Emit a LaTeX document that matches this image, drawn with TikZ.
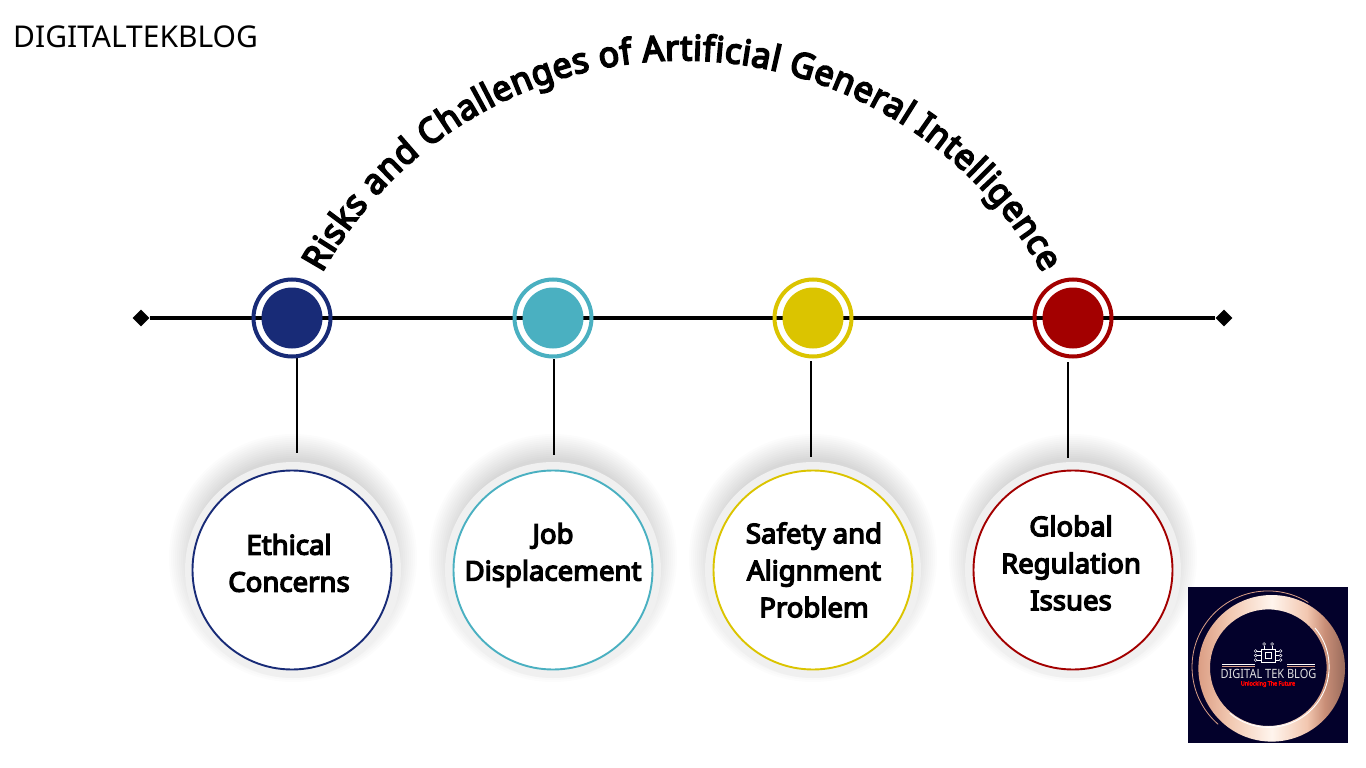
\documentclass[tikz,border=0pt]{standalone}
\usepackage{fontspec}
\setmainfont{Noto Sans}
\newfontfamily\labelfont[FakeBold=5,FakeStretch=1.02]{Noto Sans}
\newfontfamily\titlefont[FakeBold=5,FakeStretch=0.97]{Noto Sans}
\newfontfamily\logofont[FakeStretch=0.86]{Noto Sans}
\newfontfamily\logosmall[FakeBold=5,FakeStretch=0.9]{Noto Sans}
\usetikzlibrary{shapes.geometric,decorations.text,positioning}
\definecolor{cnavy}{HTML}{182B77}
\definecolor{cteal}{HTML}{4AB0C1}
\definecolor{cyell}{HTML}{DBC400}
\definecolor{cred}{HTML}{A30000}
\definecolor{clogo}{HTML}{03012B}
\definecolor{ccopper}{HTML}{D99E86}
\definecolor{cpale}{HTML}{FBEDE4}
\pgfdeclarehorizontalshading{logoring}{100bp}{rgb(0bp)=(0.86,0.62,0.52);rgb(25bp)=(0.86,0.62,0.52);rgb(36bp)=(0.95,0.79,0.70);rgb(50bp)=(1,0.96,0.93);rgb(62bp)=(0.95,0.78,0.69);rgb(68bp)=(0.79,0.56,0.47);rgb(75bp)=(0.60,0.42,0.36);rgb(100bp)=(0.60,0.42,0.36)}
\tikzset{
 x=1pt,y=-1pt,
 axisline/.style={line width=3.2pt,black},
 stem/.style={line width=2.7pt,black},
 tipnode/.style={diamond,fill=black,inner sep=0pt,minimum size=17pt},
 outerdot/.style={circle,draw=#1,line width=4pt,inner sep=0pt,minimum size=77pt},
 innerdot/.style={circle,fill=#1,inner sep=0pt,minimum size=61pt},
 bigdisc/.style={circle,fill=white,draw=#1,line width=1.9pt,inner sep=0pt,minimum size=199pt},
 labeltext/.style={font=\labelfont\fontsize{27}{37}\selectfont,align=center,black},
 halo/.style={fill=black,fill opacity=0.010,draw=none},
 logoline/.style={line width=0.6pt,white},
}
\newcommand{\halodisc}[2]{%
 \foreach \r in {124,122,...,100}{\path[halo] (#1,#2-12) circle (\r);}
 \fill[black!6] (#1,#2) circle (108);
}
\begin{document}
\begin{tikzpicture}
\useasboundingbox (0,0) rectangle (1366,768);
\fill[white] (0,0) rectangle (1366,768);
\node[anchor=west,font=\fontsize{30}{32}\selectfont,inner sep=0pt] (brand) at (13,37) {DIGITALTEKBLOG};
% title
\path[decorate,decoration={text along path,text align={fit to path},
 text={|\titlefont\fontsize{35}{40}\selectfont|Risks and Challenges of Artificial General Intelligence}}]
 (322,273) arc[start angle=208.9,end angle=331.1,radius=411.6];
% axis
\node[tipnode] (tl) at (141,318) {};
\node[tipnode] (tr) at (1224,318) {};
\draw[axisline] (tl) -- (tr);
% halos
\halodisc{293}{570}\halodisc{553}{570}\halodisc{813}{570}\halodisc{1073}{570}
% stems free ends
\foreach \n/\x/\ys/\ye/\c/\cx in {a/297/358/453/cnavy/292,b/554/359/455/cteal/553,c/811/361/457/cyell/813,d/1068/362/458/cred/1073}{
 \coordinate (s\n) at (\x,\ys);
 \coordinate (e\n) at (\x,\ye);
 \draw[stem] (s\n) -- (e\n);
 \node[outerdot=\c] (o\n) at (\cx,318) {};
 \node[innerdot=\c] (i\n) at (\cx,318) {};
 \node[bigdisc=\c] (big\n) at (\cx+0,570) {};
}
\node[labeltext] (la) at (289,563) {Ethical\\Concerns};
\node[labeltext] (lb) at (553,555) {Job\\Displacement};
\node[labeltext] (lc) at (814,570) {Safety and\\Alignment\\Problem};
\node[labeltext] (ld) at (1071,563) {Global\\Regulation\\Issues};
% logo
\fill[clogo] (1188,587) rectangle (1348,743);
\shade[even odd rule,shading=logoring] (1271.7,668.3) circle (73.3) (1268.3,667.7) circle (58.3);
\draw[ccopper,line width=0.8pt] (1308.3,602.5) arc[start angle=-58,end angle=-229,radius=76];
\draw[white,line width=0.9pt] (1315,628) arc[start angle=-40,end angle=130,radius=60.5];
\node[inner sep=0pt,text=white!88!black,font=\logofont\fontsize{12.8}{14}\selectfont] (lg1) at (1268.5,674) {DIGITAL TEK BLOG};
\node[inner sep=0pt,text=red,font=\logosmall\fontsize{6}{6}\selectfont] (lg2) at (1268,684) {Unlocking The Future};
\draw[line width=0.8pt,white] (1222,664) -- (1255,664) (1287,664) -- (1315,664);
\draw[line width=0.6pt,ccopper] (1222,666) -- (1255,666) (1287,666) -- (1315,666);
\draw[logoline] (1261,649) rectangle (1275,662);
\draw[logoline,line width=0.9pt] (1265,652.5) rectangle (1271,658.5);
\foreach \yy in {651,655.5,660}{\draw[logoline] (1261,\yy) -- (1257,\yy) (1275,\yy) -- (1279,\yy);
 \draw[white,line width=0.5pt] (1255.5,\yy) circle (1.4) (1280.5,\yy) circle (1.4);}
\foreach \xx in {1264,1272}{\draw[logoline] (\xx,649) -- (\xx,645.5); \draw[white,line width=0.5pt] (\xx,644) circle (1.4);}
\end{tikzpicture}
\end{document}
